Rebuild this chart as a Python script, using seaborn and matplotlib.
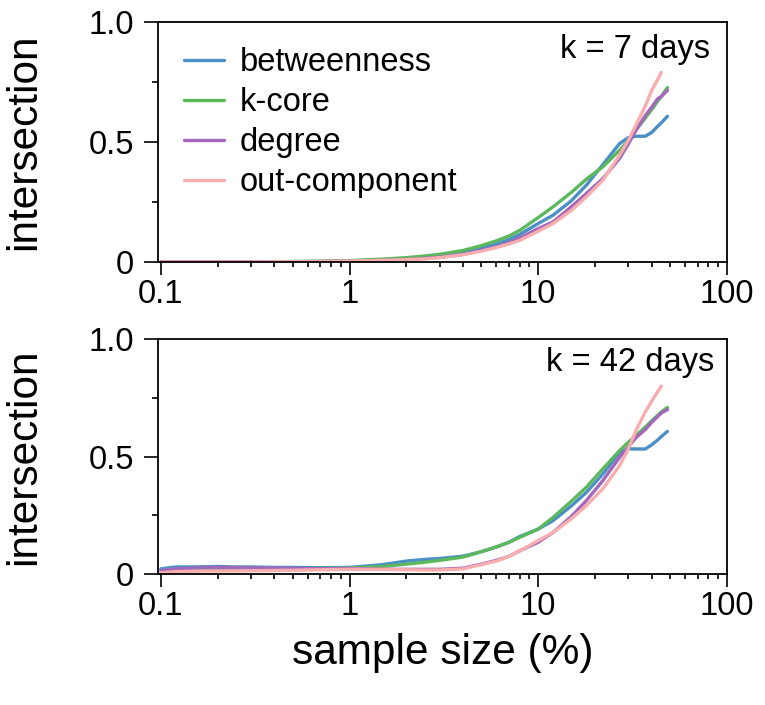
import matplotlib
matplotlib.use("Agg")
import matplotlib.pyplot as plt
import matplotlib.ticker as mticker
import numpy as np
import pandas as pd
import seaborn as sns

sns.set_style("ticks")
plt.rcParams["font.family"] = ["Liberation Sans", "DejaVu Sans"]
plt.rcParams["text.color"] = "black"
plt.rcParams["axes.labelcolor"] = "black"
plt.rcParams["xtick.color"] = "black"
plt.rcParams["ytick.color"] = "black"

# sample size (%) at which curves were read
x_main = [0.1, 0.12, 0.15, 0.2, 0.25, 0.3, 0.4, 0.5, 0.7, 1, 1.5, 2, 2.5, 3, 4, 5,
          6, 7, 8, 10, 12, 15, 18, 22, 27, 30, 33, 37, 40, 43, 45, 48.5]
x_pink = x_main[:-1]

# k = 7 days
betweenness_7 = [0, 0, 0, 0, 0, 0.001, 0.001, 0.001, 0.002, 0.004, 0.009, 0.015, 0.021, 0.028,
                 0.042, 0.058, 0.075, 0.093, 0.115, 0.16, 0.195, 0.255, 0.32, 0.405, 0.493,
                 0.518, 0.524, 0.524, 0.54, 0.565, 0.58, 0.607]
kcore_7 = [0, 0, 0, 0, 0, 0.001, 0.001, 0.002, 0.003, 0.006, 0.012, 0.018, 0.025, 0.032,
           0.048, 0.068, 0.088, 0.108, 0.132, 0.185, 0.23, 0.29, 0.345, 0.396, 0.465,
           0.505, 0.549, 0.6, 0.635, 0.67, 0.69, 0.727]
degree_7 = [0, 0, 0, 0, 0, 0, 0.001, 0.001, 0.002, 0.003, 0.006, 0.01, 0.015, 0.02,
            0.032, 0.048, 0.063, 0.08, 0.1, 0.139, 0.167, 0.23, 0.285, 0.347, 0.431,
            0.49, 0.549, 0.61, 0.645, 0.68, 0.69, 0.715]
outcomp_7 = [0, 0, 0, 0, 0, 0, 0.001, 0.001, 0.002, 0.004, 0.007, 0.01, 0.013, 0.018,
             0.03, 0.045, 0.06, 0.075, 0.09, 0.128, 0.16, 0.215, 0.271, 0.34, 0.445,
             0.505, 0.57, 0.65, 0.715, 0.76, 0.79]

# k = 42 days
betweenness_42 = [0.022, 0.03, 0.03, 0.032, 0.03, 0.03, 0.028, 0.028, 0.027, 0.028, 0.04,
                  0.055, 0.062, 0.066, 0.076, 0.095, 0.115, 0.135, 0.16, 0.191, 0.227, 0.29,
                  0.347, 0.425, 0.517, 0.533, 0.532, 0.532, 0.55, 0.57, 0.585, 0.607]
kcore_42 = [0.005, 0.012, 0.015, 0.018, 0.019, 0.02, 0.021, 0.022, 0.024, 0.026, 0.032,
            0.042, 0.05, 0.058, 0.072, 0.095, 0.115, 0.135, 0.156, 0.191, 0.241, 0.31,
            0.369, 0.447, 0.525, 0.56, 0.589, 0.625, 0.652, 0.675, 0.69, 0.709]
degree_42 = [0.015, 0.022, 0.025, 0.028, 0.027, 0.026, 0.025, 0.024, 0.022, 0.024, 0.02,
             0.02, 0.02, 0.02, 0.025, 0.042, 0.058, 0.075, 0.099, 0.135, 0.177, 0.245,
             0.312, 0.397, 0.496, 0.54, 0.58, 0.615, 0.645, 0.67, 0.685, 0.70]
outcomp_42 = [0.005, 0.01, 0.012, 0.013, 0.013, 0.014, 0.015, 0.016, 0.018, 0.02, 0.02,
              0.018, 0.017, 0.017, 0.022, 0.04, 0.055, 0.075, 0.099, 0.142, 0.177, 0.235,
              0.291, 0.362, 0.461, 0.53, 0.61, 0.69, 0.735, 0.775, 0.80]

methods = ["betweenness", "k-core", "degree", "out-component"]
colors = ["#4a8fc6", "#5cb85c", "#a367bb", "#f8aeae"]
panel_labels = ["k = 7 days", "k = 42 days"]

xticks = [0.1, 1, 10, 100]
xticklabels = ["0.1", "1", "10", "100"]
yticks = [0, 0.5, 1.0]
yticklabels = ["0", "0.5", "1.0"]


def make_frame(series):
    frames = []
    for name, ys in zip(methods, series):
        xs = x_pink if len(ys) == len(x_pink) else x_main
        frames.append(pd.DataFrame({"x": xs, "y": ys, "method": name}))
    return pd.concat(frames, ignore_index=True)


panels = [
    make_frame([betweenness_7, kcore_7, degree_7, outcomp_7]),
    make_frame([betweenness_42, kcore_42, degree_42, outcomp_42]),
]

fig = plt.figure(figsize=(7.65, 7.05), dpi=100)
ax_top = fig.add_axes([0.2065, 0.6284, 0.7435, 0.3404])
ax_bot = fig.add_axes([0.2065, 0.1858, 0.7435, 0.3333])

for i, (ax, df) in enumerate(zip([ax_top, ax_bot], panels)):
    sns.lineplot(
        data=df, x="x", y="y", hue="method", hue_order=methods,
        palette=colors, estimator=None, sort=True, linewidth=2.4,
        ax=ax, legend=(i == 0),
    )
    ax.set_xscale("log")
    ax.set_xlim(0.0965, 100)
    ax.set_ylim(0, 1.0)
    ax.set_xticks(xticks, xticklabels)
    ax.xaxis.set_minor_locator(mticker.LogLocator(base=10, subs=np.arange(2, 10), numticks=20))
    ax.xaxis.set_minor_formatter(mticker.NullFormatter())
    ax.set_yticks(yticks, yticklabels)
    ax.set_yticks([0.25, 0.75], minor=True)

    ax.tick_params(axis="both", which="major", labelsize=23.5, width=1.2, color="black")
    ax.tick_params(axis="y", which="major", length=10, pad=7)
    ax.tick_params(axis="x", which="major", length=9, pad=3)
    ax.tick_params(axis="y", which="minor", length=4, width=1.2)
    ax.tick_params(axis="x", which="minor", length=3.5, width=1.2)
    for sp in ax.spines.values():
        sp.set_visible(True)
        sp.set_linewidth(1.3)
        sp.set_color("black")

    ax.set_ylabel("intersection", fontsize=30.5)
    ax.yaxis.set_label_coords(-0.200, 0.5)
    ax.set_xlabel("")
    ax.text(0.97 if i == 0 else 0.978, 0.885 if i == 0 else 0.9, panel_labels[i],
            transform=ax.transAxes, ha="right", va="center", fontsize=23.5)

ax_top.legend(
    loc="upper left", bbox_to_anchor=(0.045, 0.896), frameon=False,
    fontsize=23.5, handlelength=1.23, handletextpad=0.5, labelspacing=0.28,
    borderpad=0, borderaxespad=0,
)

ax_bot.set_xlabel("sample size (%)", fontsize=30.5, labelpad=8)

fig.savefig("out.png", dpi=100)
